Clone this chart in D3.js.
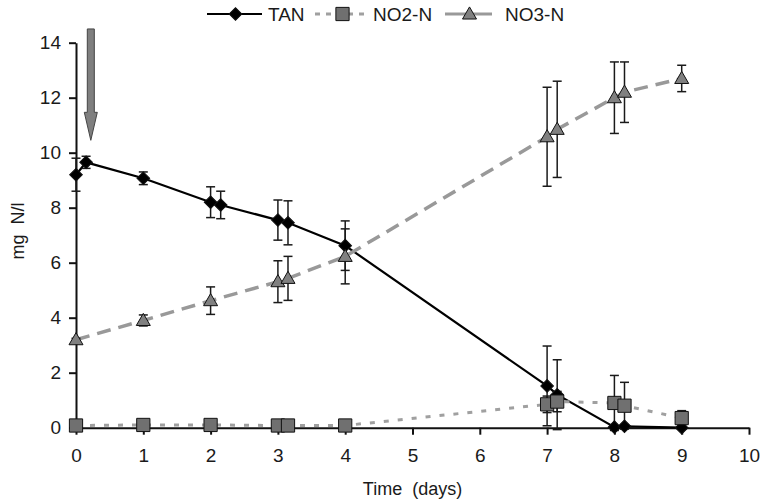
<!DOCTYPE html>
<html>
<head>
    <meta charset="utf-8">
    <title>TAN / NO2-N / NO3-N over time</title>
    <script src="https://d3js.org/d3.v7.min.js"></script>
    <style>
        body { margin: 0; padding: 0; background: #fff; }
        text { font-family: "Liberation Sans", Arial, sans-serif; fill: #1a1a1a; }
        .axis path, .axis line { stroke: #111; stroke-width: 2; }
        .axis text { font-size: 19px; }
    </style>
</head>
<body>
    <svg id="svg" width="763" height="503"></svg>

    <script>
        // Values.
        const tanTime = [0, 0.15, 1, 2, 2.15, 3, 3.15, 4, 7, 7.15, 8, 8.15, 9];
        const tanValue = [9.2, 9.65, 9.07, 8.2, 8.1, 7.55, 7.45, 6.62, 1.52, 1.2, 0.02, 0.05, 0.0];
        const tanError = [0.6, 0.22, 0.23, 0.56, 0.5, 0.73, 0.8, 0.9, 1.45, 1.27, 0.05, 0.05, 0.03];

        const no2Time = [0, 1, 2, 3, 3.15, 4, 7, 7.15, 8, 8.15, 9];
        const no2Value = [0.08, 0.1, 0.1, 0.08, 0.08, 0.08, 0.85, 0.95, 0.9, 0.8, 0.35];
        const no2Error = [0.02, 0.02, 0.02, 0.02, 0.02, 0.02, 0.3, 0.37, 1.0, 0.85, 0.27];

        const no3Time = [0, 1, 2, 3, 3.15, 4, 7, 7.15, 8, 8.15, 9];
        const no3Value = [3.2, 3.9, 4.62, 5.31, 5.43, 6.23, 10.58, 10.85, 12.0, 12.2, 12.7];
        const no3Error = [0.05, 0.2, 0.5, 0.76, 0.8, 1.0, 1.8, 1.75, 1.3, 1.1, 0.48];

        const xTicks = [0, 1, 2, 3, 4, 5, 6, 7, 8, 9, 10];
        const yTicks = [0, 2, 4, 6, 8, 10, 12, 14];
        const arrowTime = 0.22;   // dosing arrow
        const arrowFrom = 14.5, arrowTo = 10.45;

        const svg = d3.select("svg");
        const x = d3.scaleLinear().domain([0, 10]).range([76, 749]);
        const y = d3.scaleLinear().domain([0, 14]).range([427.7, 42.7]);

        const zip = (t, v, e) => t.map((d, i) => ({ t: d, v: v[i], e: e[i] }));
        // TAN marker: a square turned 45 degrees (equal width and height).
        const series = [
            { name: "TAN", data: zip(tanTime, tanValue, tanError), stroke: "#000", width: 2.2, dash: null, shape: d3.symbolSquare, rot: 45, dy: 0, fill: "#000", size: 80 },
            { name: "NO3-N", data: zip(no3Time, no3Value, no3Error), stroke: "#999", width: 3.5, dash: "14,8", shape: d3.symbolTriangle, rot: 0, dy: 1, fill: "#808080", size: 85 },
            { name: "NO2-N", data: zip(no2Time, no2Value, no2Error), stroke: "#a0a0a0", width: 3, dash: "5,9", shape: d3.symbolSquare, rot: 0, dy: 0, fill: "#707070", size: 175 }
        ];

        // Axes.
        svg.append("g")
            .attr("class", "axis")
            .attr("transform", `translate(0, ${y(0)})`)
            .call(d3.axisBottom(x).tickValues(xTicks).tickSize(7).tickPadding(14).tickSizeOuter(0));

        svg.append("g")
            .attr("class", "axis")
            .attr("transform", `translate(${x(0)}, 0)`)
            .call(d3.axisLeft(y).tickValues(yTicks).tickSize(7).tickPadding(8).tickSizeOuter(0));

        svg.append("text")
            .attr("x", x(5)).attr("y", 495)
            .attr("text-anchor", "middle")
            .style("font-size", "18px").style("white-space", "pre")
            .text("Time  (days)");

        svg.append("text")
            .attr("transform", "translate(24, 231) rotate(-90)")
            .attr("text-anchor", "middle")
            .style("font-size", "18px").style("white-space", "pre")
            .text("mg  N/l");

        const line = d3.line().x(d => x(d.t)).y(d => y(d.v));

        // Lines.
        series.forEach(s => {
            svg.append("path")
                .datum(s.data)
                .attr("fill", "none")
                .attr("stroke", s.stroke)
                .attr("stroke-width", s.width)
                .attr("stroke-dasharray", s.dash)
                .attr("d", line);
        });

        // Error bars.
        series.forEach(s => {
            const g = svg.append("g").attr("stroke", "#1a1a1a").attr("stroke-width", 1.5);
            s.data.forEach(d => {
                const lo = Math.max(d.v - d.e, -0.15), hi = d.v + d.e;
                g.append("line").attr("x1", x(d.t)).attr("x2", x(d.t)).attr("y1", y(lo)).attr("y2", y(hi));
                [lo, hi].forEach(c => g.append("line")
                    .attr("x1", x(d.t) - 4.5).attr("x2", x(d.t) + 4.5)
                    .attr("y1", y(c)).attr("y2", y(c)));
            });
        });

        // Markers.
        series.forEach(s => {
            svg.append("g").selectAll("path")
                .data(s.data)
                .join("path")
                .attr("transform", d => `translate(${x(d.t)}, ${y(d.v) + s.dy}) rotate(${s.rot})`)
                .attr("d", d3.symbol().type(s.shape).size(s.size))
                .attr("fill", s.fill)
                .attr("stroke", "#111")
                .attr("stroke-width", 1);
        });

        // Dosing arrow.
        const ax = x(arrowTime), arrowTop = y(arrowFrom), arrowTip = y(arrowTo), neck = arrowTip - 28;
        svg.append("path")
            .attr("d", `M${ax - 3.5},${arrowTop} L${ax + 3.5},${arrowTop} L${ax + 3.5},${neck} L${ax + 6.5},${neck}
                        L${ax},${arrowTip} L${ax - 6.5},${neck} L${ax - 3.5},${neck} Z`)
            .attr("fill", "#7f7f7f")
            .attr("stroke", "#444")
            .attr("stroke-width", 1);

        // Legend.
        const legend = [
            { s: series[0], x0: 207, x1: 262, tx: 268 },
            { s: series[2], x0: 315, x1: 368, tx: 373 },
            { s: series[1], x0: 445, x1: 492, tx: 505 }
        ];
        legend.forEach(l => {
            const g = svg.append("g");
            const mid = (l.x0 + l.x1) / 2 + 1;
            g.append("line")
                .attr("x1", l.x0).attr("x2", l.x1).attr("y1", 14).attr("y2", 14)
                .attr("stroke", l.s.stroke)
                .attr("stroke-width", l.s.name === "TAN" ? 2.2 : 3)
                .attr("stroke-dasharray", l.s.name === "NO2-N" ? "5,6" : null);
            g.append("path")
                .attr("transform", `translate(${mid}, ${14 + l.s.dy}) rotate(${l.s.rot})`)
                .attr("d", d3.symbol().type(l.s.shape).size(l.s.size))
                .attr("fill", l.s.fill).attr("stroke", "#111").attr("stroke-width", 1);
            g.append("text")
                .attr("x", l.tx).attr("y", 21)
                .style("font-size", "19px")
                .text(l.s.name);
        });
    </script>
</body>
</html>
